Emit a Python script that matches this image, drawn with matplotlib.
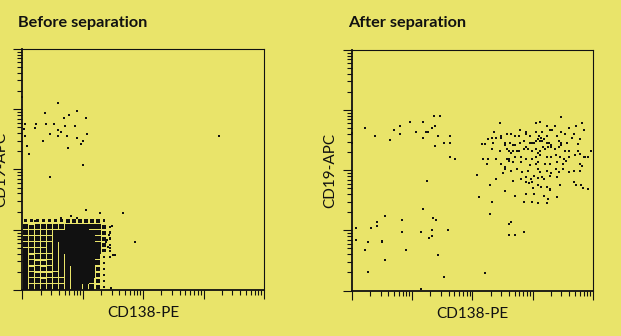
import numpy as np
import matplotlib
matplotlib.use('Agg')
import matplotlib.pyplot as plt
from matplotlib.ticker import LogLocator

plt.rcParams['font.family'] = ['Lato', 'DejaVu Sans']

# Data (log10 fluorescence)
# Before separation: sparse events
before_cd138 = [0.59, 0.38, 0.77, 0.91, 0.69, 1.05, 0.04, 0.22, 0.39, 0.53, 0.21, 0.87,
                0.70, 0.02, 0.59, 0.64, 0.46, 1.07, 0.04, 0.59, 0.74, 0.34, 0.91, 1.01,
                0.97, 0.07, 0.76, 0.11, 1.01, 0.46, 3.25, 0.00, 1.05, 1.67, 1.86, 1.46,
                1.28, 0.80, 0.91, 0.64, 0.44, 0.21, 1.49, 1.44, 1.40, 1.53, 1.50, 1.42,
                1.45, 1.39]
before_cd19 = [3.10, 2.93, 2.90, 2.97, 2.86, 2.85, 2.76, 2.76, 2.76, 2.76, 2.69, 2.72,
               2.72, 2.68, 2.66, 2.62, 2.59, 2.59, 2.56, 2.55, 2.55, 2.48, 2.52, 2.48,
               2.42, 2.39, 2.35, 2.25, 2.08, 1.87, 2.56, 3.21, 1.33, 1.27, 0.79, 0.04,
               1.27, 1.23, 1.19, 1.19, 1.16, 1.15, 1.07, 0.91, 0.83, 0.58, 0.58, 0.72,
               0.69, 0.80]

# Before separation: dense population, fill fraction (0-10) per 0.1-decade cell,
# rows from CD19 1.1-1.2 (top) down to 0.0-0.1, columns CD138 0.0 -> 1.5
before_core_density = [
    [2, 3, 3, 2, 3, 3, 3, 4, 4, 4, 5, 5, 4, 2, 0],
    [6, 5, 6, 7, 7, 8, 8, 9, 9, 9, 9, 8, 8, 5, 1],
    [8, 7, 8, 8, 8, 9, 9, 9, 10, 10, 10, 9, 8, 5, 2],
    [8, 7, 7, 8, 8, 9, 9, 10, 10, 10, 10, 9, 8, 5, 2],
    [7, 7, 7, 7, 8, 8, 9, 10, 10, 10, 10, 9, 8, 4, 1],
    [8, 6, 6, 7, 7, 8, 9, 9, 10, 10, 10, 9, 8, 3, 1],
    [8, 6, 7, 7, 7, 8, 8, 9, 9, 10, 10, 9, 7, 2, 1],
    [8, 7, 6, 6, 7, 8, 8, 9, 9, 9, 9, 9, 7, 2, 0],
    [8, 6, 7, 6, 7, 7, 8, 8, 9, 9, 9, 8, 6, 1, 0],
    [8, 7, 6, 6, 6, 7, 7, 8, 8, 8, 8, 8, 6, 1, 0],
    [8, 7, 7, 6, 7, 7, 7, 8, 8, 8, 8, 7, 6, 1, 0],
    [8, 7, 7, 7, 7, 7, 7, 7, 8, 7, 7, 7, 6, 1, 0],
]

# After separation: CD138-negative events
after_neg_cd138 = [0.21, 0.38, 0.63, 0.69, 0.80, 0.80, 0.97, 1.07, 1.18, 1.18, 1.23, 1.26,
                   1.32, 1.36, 1.38, 1.38, 1.42, 1.46, 1.53, 1.63, 1.63, 1.63, 1.71, 1.25,
                   0.00, 0.00,
                   0.07, 0.07, 0.21, 0.27, 0.27, 0.31, 0.42, 0.42, 0.49, 0.49, 0.55, 0.55,
                   0.83, 0.83, 0.90, 1.14, 1.15, 1.18, 1.28, 1.32, 1.32, 1.35, 1.39, 1.42,
                   1.52, 1.59]
after_neg_cd19 = [2.70, 2.57, 2.50, 2.67, 2.74, 2.60, 2.80, 2.63, 2.80, 2.53, 2.63, 2.63,
                  2.70, 2.90, 2.74, 2.40, 2.57, 2.90, 2.46, 2.57, 2.46, 2.22, 2.19, 1.82,
                  2.62, 2.45,
                  1.04, 0.84, 0.67, 0.80, 0.30, 1.04, 1.14, 1.07, 0.83, 0.80, 1.24, 0.50,
                  1.18, 0.97, 0.67, 0.97, 0.02, 1.35, 0.87, 1.01, 0.90, 1.21, 1.18, 0.59,
                  0.22, 1.01]

# After separation: CD138+ plasma cells
after_pos_cd138 = [
    3.47, 2.46, 3.06, 3.12, 3.23, 3.37, 3.71, 3.82, 3.61, 2.79, 3.85, 2.35, 2.88, 2.88,
    3.06, 3.16, 3.29, 3.32, 2.57, 2.64, 2.71, 2.77, 2.47, 2.47, 2.95, 3.11, 3.13, 3.23,
    3.40, 3.47, 3.54, 3.68, 2.39, 2.33, 2.25, 3.78, 2.15, 2.21, 2.34, 2.54, 2.54, 2.62,
    2.68, 2.71, 2.79, 2.85, 2.96, 2.99, 3.02, 3.06, 3.08, 3.12, 3.16, 3.19, 3.23, 3.27,
    3.30, 3.43, 3.47, 3.47, 3.57, 3.65, 3.75, 2.33, 2.46, 2.57, 2.60, 2.64, 2.68, 2.74,
    2.78, 2.85, 2.89, 2.92, 2.98, 3.05, 3.08, 3.12, 3.17, 3.20, 3.26, 3.30, 3.37, 3.43,
    3.54, 3.61, 3.75, 3.79, 3.86, 3.96, 2.18, 2.25, 2.39, 2.57, 2.60, 2.60, 2.71, 2.81,
    2.88, 2.99, 3.06, 3.12, 3.23, 3.31, 3.39, 3.46, 3.52, 3.60, 3.70, 3.85, 3.91, 2.24,
    2.47, 2.54, 2.54, 2.68, 2.81, 2.95, 3.06, 3.08, 3.20, 3.29, 3.40, 3.50, 3.55, 3.78,
    3.81, 2.08, 2.39, 2.50, 2.64, 2.74, 2.82, 2.88, 2.92, 2.97, 3.02, 3.08, 3.12, 3.16,
    3.24, 3.31, 3.38, 3.44, 3.51, 3.61, 3.69, 3.78, 2.67, 2.80, 2.88, 2.99, 3.08, 3.19,
    3.29, 3.40, 2.29, 2.93, 3.08, 3.13, 3.24, 3.28, 3.46, 3.68, 3.71, 3.80, 3.91, 3.84,
    2.54, 2.88, 3.02, 3.19, 3.29, 3.40, 3.01, 2.70, 2.11, 2.33, 2.85, 2.98, 3.09, 3.24,
    3.26, 2.21, 2.29, 2.60, 2.64, 2.60, 2.70, 2.85]
after_pos_cd19 = [
    2.88, 2.78, 2.78, 2.81, 2.74, 2.74, 2.74, 2.78, 2.70, 2.67, 2.67, 2.63, 2.63, 2.60,
    2.63, 2.63, 2.67, 2.67, 2.60, 2.60, 2.57, 2.57, 2.57, 2.53, 2.57, 2.57, 2.53, 2.57,
    2.57, 2.63, 2.60, 2.60, 2.53, 2.53, 2.52, 2.52, 2.44, 2.44, 2.46, 2.46, 2.42, 2.46,
    2.42, 2.42, 2.46, 2.49, 2.46, 2.46, 2.46, 2.49, 2.52, 2.49, 2.49, 2.52, 2.46, 2.46,
    2.42, 2.49, 2.46, 2.42, 2.46, 2.53, 2.44, 2.36, 2.32, 2.36, 2.32, 2.29, 2.32, 2.32,
    2.32, 2.36, 2.39, 2.36, 2.32, 2.36, 2.29, 2.32, 2.39, 2.36, 2.39, 2.39, 2.36, 2.39,
    2.32, 2.32, 2.32, 2.27, 2.22, 2.32, 2.19, 2.19, 2.19, 2.19, 2.19, 2.16, 2.22, 2.22,
    2.19, 2.19, 2.22, 2.26, 2.22, 2.22, 2.26, 2.22, 2.19, 2.22, 2.26, 2.22, 2.22, 2.10,
    2.11, 2.06, 2.02, 2.13, 2.13, 2.08, 2.10, 2.13, 2.11, 2.11, 2.13, 2.11, 2.16, 2.11,
    2.07, 1.92, 1.85, 1.95, 1.99, 2.02, 1.97, 1.89, 1.99, 1.86, 1.91, 2.02, 1.97, 1.88,
    1.99, 1.96, 2.02, 1.97, 2.02, 1.97, 1.99, 1.99, 1.82, 1.86, 1.80, 1.81, 1.87, 1.85,
    1.90, 1.88, 1.76, 1.78, 1.75, 1.72, 1.72, 1.67, 1.75, 1.81, 1.76, 1.75, 1.69, 1.71,
    1.66, 1.61, 1.60, 1.58, 1.68, 1.56, 1.71, 1.58, 1.55, 1.48, 1.48, 1.48, 1.45, 1.45,
    1.53, 0.29, 1.28, 1.10, 1.14, 0.93, 0.93, 0.97]

titles = ['Before separation', 'After separation']
xlabel = 'CD138-PE'
ylabel = 'CD19-APC'

bg = '#E9E46A'
ink = '#111111'

fig = plt.figure(figsize=(6.21, 3.36), dpi=100, facecolor=bg)
ax1 = fig.add_axes([0.0362, 0.1369, 0.3889, 0.7173])
ax2 = fig.add_axes([0.5668, 0.1354, 0.3881, 0.7158])

for ax in (ax1, ax2):
    ax.set_facecolor(bg)
    ax.set_xscale('log')
    ax.set_yscale('log')
    ax.set_xlim(1, 1e4)
    ax.set_ylim(1, 1e4)
    for axis in (ax.xaxis, ax.yaxis):
        axis.set_major_locator(LogLocator(base=10, numticks=10))
        axis.set_minor_locator(LogLocator(base=10, subs=np.arange(2, 10), numticks=10))
    ax.tick_params(which='both', direction='out', labelbottom=False, labelleft=False,
                   color=ink, width=0.8)
    ax.tick_params(which='major', length=6.3)
    ax.tick_params(which='minor', length=3.3)
    for side in ('left', 'bottom'):
        ax.spines[side].set_linewidth(1.3)
        ax.spines[side].set_color(ink)
    for side in ('top', 'right'):
        ax.spines[side].set_linewidth(0.8)
        ax.spines[side].set_color(ink)
    ax.set_xlabel(xlabel, fontsize=11, labelpad=5.5, color=ink)
    ax.set_ylabel(ylabel, fontsize=11, labelpad=4, color=ink)

# dense population: one black square per 0.1-decade cell, area = fill fraction
dens = np.array(before_core_density[::-1], dtype=float) / 10
rows, cols = np.nonzero(dens)
cell_x = 10 ** (cols * 0.1 + 0.05)
cell_y = 10 ** (rows * 0.1 + 0.05)
cell_pt = 0.1 * ax1.bbox.width / 4 * 72 / fig.dpi  # 0.1 decade in points
ax1.scatter(cell_x, cell_y, s=(np.sqrt(dens[rows, cols]) * cell_pt) ** 2,
            marker='s', color=ink, linewidths=0)

dot = dict(linestyle='none', marker='s', markersize=2.0, mew=0, color=ink, clip_on=False)
ax1.plot(10 ** np.array(before_cd138), 10 ** np.array(before_cd19), **dot)
ax2.plot(10 ** np.array(after_neg_cd138), 10 ** np.array(after_neg_cd19), **dot)
ax2.plot(10 ** np.array(after_pos_cd138), 10 ** np.array(after_pos_cd19), **dot)

fig.text(18 / 621, 1 - 27.5 / 336, titles[0], fontsize=11.7, fontweight='bold',
         color=ink, va='baseline')
fig.text(348 / 621, 1 - 27.5 / 336, titles[1], fontsize=11.7, fontweight='bold',
         color=ink, va='baseline')

fig.savefig('out.png', dpi=100, facecolor=bg)
